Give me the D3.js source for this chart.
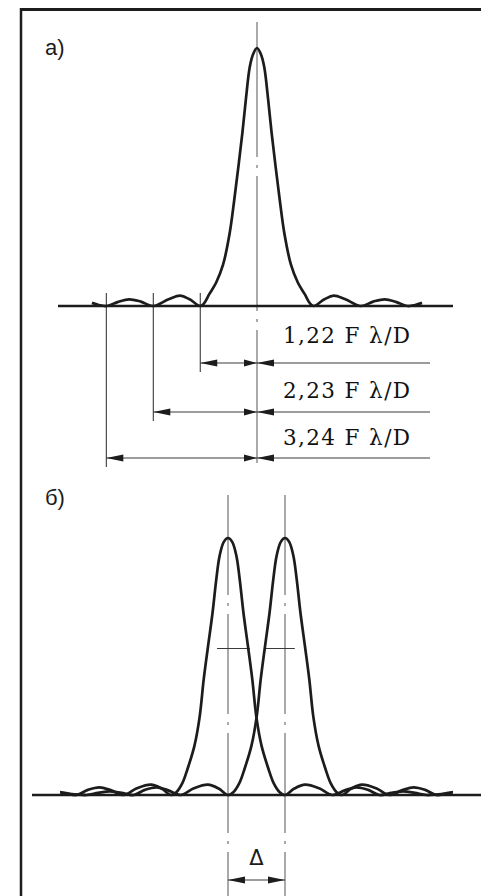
<!DOCTYPE html>
<html><head><meta charset="utf-8">
<script src="https://cdn.jsdelivr.net/npm/d3@7"></script>
<style>html,body{margin:0;padding:0;background:#fff;} svg{display:block}</style>
</head><body>
<svg id="chart" width="481" height="896"></svg>
<script>
// ---------- DATA (positions in F·λ/D units, relative intensity) ----------
// Panel а): single diffraction pattern
const profileA_u = [-3.55,-3.4,-3.24,-3.0,-2.75,-2.5,-2.23,-1.9,-1.65,-1.45,-1.22,-1.14,-1.03,-0.88,-0.73,-0.59,-0.49,-0.40,-0.315,-0.24,-0.155,-0.086,0,
                     0.086,0.155,0.24,0.315,0.40,0.49,0.59,0.73,0.88,1.03,1.14,1.22,1.45,1.65,1.9,2.23,2.5,2.75,3.0,3.24,3.4,3.55];
const profileA_I = [0.012,0.004,0,0.015,0.026,0.017,0,0.026,0.040,0.026,0,0.010,0.045,0.09,0.16,0.28,0.41,0.54,0.67,0.80,0.927,0.975,1.0,
                     0.975,0.927,0.80,0.67,0.54,0.41,0.28,0.16,0.09,0.045,0.010,0,0.026,0.040,0.026,0,0.017,0.026,0.015,0,0.004,0.012];
const zerosA = [1.22, 2.23, 3.24];
const zeroLabels = ["1,22 F λ/D", "2,23 F λ/D", "3,24 F λ/D"];

// Panel б): two resolved patterns (Rayleigh criterion)
const profileB_u = [-4.8,-4.5,-4.25,-4.0,-3.75,-3.5,-3.24,-3.0,-2.75,-2.5,-2.23,-1.95,-1.65,-1.42,-1.22,-1.1,-0.98,-0.86,-0.72,-0.61,-0.52,-0.43,-0.33,-0.25,-0.18,-0.09,0,
                     0.09,0.18,0.25,0.33,0.43,0.52,0.61,0.72,0.86,0.98,1.1,1.22,1.42,1.65,1.95,2.23,2.5,2.75,3.0,3.24,3.5,3.75,4.0,4.25,4.5,4.8];
const profileB_I = [0.006,0.003,0,0.008,0.014,0.008,0,0.02,0.03,0.018,0,0.026,0.04,0.025,0,0.012,0.045,0.105,0.19,0.30,0.45,0.575,0.71,0.84,0.93,0.985,1.0,
                     0.985,0.93,0.84,0.71,0.575,0.45,0.30,0.19,0.105,0.045,0.012,0,0.025,0.04,0.026,0,0.018,0.03,0.02,0,0.008,0.014,0.008,0,0.003,0.006];
const peakCentersB = [0, 1.22];
const halfMax = 0.57;
const panelLabels = ["а)", "б)"];
const deltaLabel = "Δ";

// ---------- DRAWING ----------
const svg = d3.select("#chart");
const ink = "#1c1c1c", thin = "#3a3a3a";

svg.append("line").attr("x1",20).attr("y1",9.5).attr("x2",481).attr("y2",9.5)
  .attr("stroke",ink).attr("stroke-width",3);
svg.append("line").attr("x1",21).attr("y1",8).attr("x2",21).attr("y2",896)
  .attr("stroke",ink).attr("stroke-width",2.5);

svg.selectAll("text.plabel").data(panelLabels).join("text").attr("class","plabel")
  .attr("x",45).attr("y",(d,i)=> i===0 ? 55 : 505)
  .attr("font-family","'Liberation Sans', Arial, sans-serif").attr("font-size",22)
  .attr("fill",ink).text(d=>d);

function arrow(g, tipX, y, dir, len, hw){
  const b = tipX - dir*len;
  g.append("path").attr("d",`M${tipX},${y}L${b},${y-hw}L${b},${y+hw}Z`).attr("fill",ink);
}
const smooth = d3.curveCatmullRom.alpha(0.5);

// ===== Panel а =====
const gA = svg.append("g");
const xA = d3.scaleLinear().domain([0,1]).range([257, 257+46.5]);
const yA = d3.scaleLinear().domain([0,1]).range([306, 48]);

gA.append("line").attr("x1",xA(0)).attr("x2",xA(0)).attr("y1",22).attr("y2",463)
  .attr("stroke","#555").attr("stroke-width",1).attr("stroke-dasharray","135,8,3,8");

const rowY = [363, 412, 458], labY = [343, 398, 445];
zerosA.forEach((z,i)=>{
  const x0 = xA(-z);
  gA.append("line").attr("x1",x0).attr("x2",x0).attr("y1",293).attr("y2",rowY[i]+9)
    .attr("stroke",thin).attr("stroke-width",1.1);
  gA.append("line").attr("x1",x0).attr("x2",430).attr("y1",rowY[i]).attr("y2",rowY[i])
    .attr("stroke",thin).attr("stroke-width",1.1);
  arrow(gA, x0, rowY[i], -1, 17, 3.6);
  arrow(gA, xA(0), rowY[i], 1, 13, 3.6);
  arrow(gA, xA(0), rowY[i], -1, 17, 3.6);
  gA.append("text").attr("x",283).attr("y",labY[i])
    .attr("font-family","'DejaVu Serif', serif").attr("font-size",21.5)
    .attr("textLength",127).attr("lengthAdjust","spacing")
    .attr("fill","#111").text(zeroLabels[i]);
});

gA.append("line").attr("x1",58).attr("x2",453).attr("y1",yA(0)).attr("y2",yA(0))
  .attr("stroke",ink).attr("stroke-width",2.6);

const lineA = d3.line().x(d=>xA(d[0])).y(d=>yA(d[1])).curve(smooth);
gA.append("path").datum(d3.zip(profileA_u, profileA_I)).attr("d",lineA)
  .attr("fill","none").attr("stroke",ink).attr("stroke-width",2.7).attr("stroke-linejoin","round");

// ===== Panel б =====
const gB = svg.append("g");
const xB = d3.scaleLinear().domain([0,1.22]).range([228,285]);
const yB = d3.scaleLinear().domain([0,1]).range([795,538]);

svg.append("clipPath").attr("id","clipB").append("rect")
  .attr("x",60).attr("y",480).attr("width",393).attr("height",330);

peakCentersB.forEach(c=>{
  gB.append("line").attr("x1",xB(c)).attr("x2",xB(c)).attr("y1",495).attr("y2",896)
    .attr("stroke","#555").attr("stroke-width",1).attr("stroke-dasharray","100,8,3,8");
});

const hmY = yB(halfMax);
gB.append("line").attr("x1",xB(-0.235)).attr("x2",xB(0.47)).attr("y1",hmY).attr("y2",hmY)
  .attr("stroke",thin).attr("stroke-width",1);
gB.append("line").attr("x1",xB(1.22-0.43)).attr("x2",xB(1.22+0.21)).attr("y1",hmY).attr("y2",hmY)
  .attr("stroke",thin).attr("stroke-width",1);

gB.append("line").attr("x1",32).attr("x2",481).attr("y1",yB(0)).attr("y2",yB(0))
  .attr("stroke",ink).attr("stroke-width",2.6);

const gCurves = gB.append("g").attr("clip-path","url(#clipB)");
peakCentersB.forEach(c=>{
  const ln = d3.line().x(d=>xB(c+d[0])).y(d=>yB(d[1])).curve(smooth);
  gCurves.append("path").datum(d3.zip(profileB_u, profileB_I)).attr("d",ln)
    .attr("fill","none").attr("stroke",ink).attr("stroke-width",2.7).attr("stroke-linejoin","round");
});

const dY = 880;
gB.append("line").attr("x1",xB(0)).attr("x2",xB(1.22)).attr("y1",dY).attr("y2",dY)
  .attr("stroke",thin).attr("stroke-width",1.1);
arrow(gB, xB(0), dY, -1, 17, 3.6);
arrow(gB, xB(1.22), dY, 1, 17, 3.6);
gB.append("text").attr("x",(xB(0)+xB(1.22))/2).attr("y",865).attr("text-anchor","middle")
  .attr("font-family","'DejaVu Sans', sans-serif").attr("font-size",21)
  .attr("fill",ink).text(deltaLabel);
</script>
</body></html>
